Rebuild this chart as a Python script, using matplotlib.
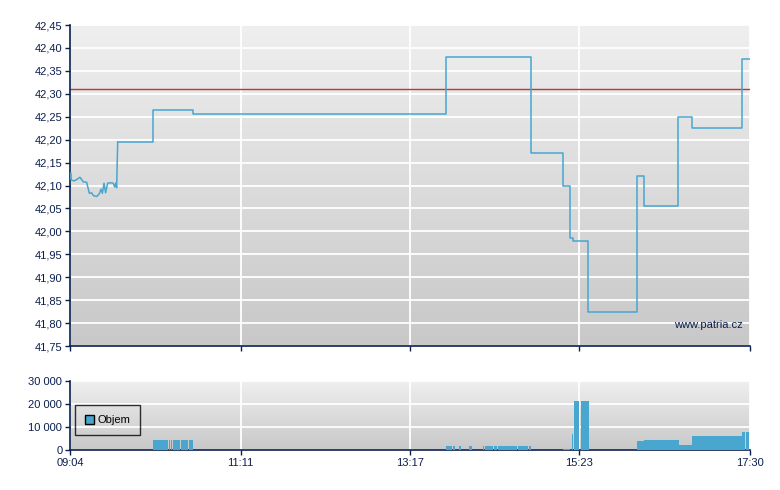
import numpy as np
import matplotlib
matplotlib.use('Agg')
import matplotlib.pyplot as plt
from matplotlib.patches import Patch

plt.rcParams['font.family'] = ['Liberation Sans', 'DejaVu Sans']

# minutes after 09:04 and trade prices
trade_min = [0, 0.5, 1, 3, 5, 7.4, 9.9, 12.4, 14.4, 16.1, 17.4, 19.8, 21.8, 23.1, 24.1,
             25.3, 26.5, 28.0, 30.3, 32.2, 33.2, 34.2, 34.7, 35.5, 62.0, 91.3, 279.8,
             342.7, 367.1, 372.1, 374.5, 385.7, 421.7, 427.3, 452.6, 463.0, 499.8, 506]
trade_px = [42.115, 42.127, 42.112, 42.110, 42.113, 42.118, 42.108, 42.107, 42.083, 42.084,
            42.078, 42.076, 42.082, 42.092, 42.083, 42.105, 42.084, 42.105, 42.106, 42.105,
            42.097, 42.106, 42.095, 42.195, 42.265, 42.255, 42.38, 42.17, 42.10, 41.985,
            41.98, 41.825, 42.12, 42.055, 42.25, 42.225, 42.375, 42.375]
n_open = 24  # opening trades drawn point to point, the rest as steps
prev_close = 42.31

# volume bars: start minute, end minute, volume
vol_start = [61.5, 66.2, 71.8, 73.3, 74.8, 76.6, 79.2, 82.6, 88.2,
             279.8, 284.8, 289.4, 292.2, 297.1, 305.6, 307.1, 308.6, 315.5, 318.2, 333.6, 341.8,
             366.8, 372.5, 373.8, 375.0, 380.0,
             421.9, 427.1, 453.2, 463.0, 499.8, 503.0]
vol_end = [66.0, 71.4, 72.9, 74.4, 75.9, 78.9, 82.2, 87.8, 91.3,
           284.0, 286.7, 290.7, 292.7, 299.1, 306.1, 307.8, 315.0, 317.5, 332.8, 341.0, 342.8,
           372.0, 373.0, 374.5, 378.7, 386.0,
           427.1, 453.2, 463.0, 499.8, 502.2, 505.5]
vol = [4400, 4400, 4400, 4400, 4400, 4400, 4400, 4400, 4400,
       1800, 1800, 1800, 1800, 1800, 1800, 1800, 1800, 1800, 1800, 1800, 1800,
       600, 7800, 7000, 21400, 21400,
       3900, 4300, 2300, 6200, 7700, 7700]

xticks = [0, 127, 253, 379, 506]
xlabels = ['09:04', '11:11', '13:17', '15:23', '17:30']
price_ticks = [41.75, 41.80, 41.85, 41.90, 41.95, 42.00, 42.05, 42.10, 42.15, 42.20,
               42.25, 42.30, 42.35, 42.40, 42.45]
vol_ticks = [0, 10000, 20000, 30000]
vol_labels = ['0', '10 000', '20 000', '30 000']

navy = '#0a1f4e'
blue = '#48a6cf'

fig = plt.figure(figsize=(7.8, 4.9), dpi=100)
ax = fig.add_axes([70/780, 1-346/490, 680/780, 321/490])
axv = fig.add_axes([70/780, 1-450/490, 680/780, 69/490])

grad = np.linspace(0, 1, 256).reshape(-1, 1)
cmap = matplotlib.colors.LinearSegmentedColormap.from_list('g', ['#c8c8c8', '#efefef'])
for a in (ax, axv):
    a.imshow(grad, extent=[0, 1, 0, 1], transform=a.transAxes, aspect='auto',
             cmap=cmap, origin='lower', zorder=0)
    a.set_xlim(0, 506)
    a.set_xticks(xticks)
    a.grid(True, color='white', lw=1.3, zorder=1)
    a.set_axisbelow(True)
    for s in ('top', 'right'):
        a.spines[s].set_visible(False)
    for s in ('left', 'bottom'):
        a.spines[s].set_color(navy)
        a.spines[s].set_linewidth(1.2)
    a.tick_params(colors=navy, labelcolor=navy, labelsize=8, length=3.5, width=1, pad=2)

ax.plot(trade_min[:n_open], trade_px[:n_open], color=blue, lw=1.1, zorder=3)
ax.step(trade_min[n_open-1:], trade_px[n_open-1:], where='post', color=blue, lw=1.1, zorder=3)
ax.axhline(prev_close, color='#c83232', lw=1, zorder=2)
ax.set_ylim(41.75, 42.45)
ax.set_yticks(price_ticks)
ax.set_yticklabels([f'{v:.2f}'.replace('.', ',') for v in price_ticks])
ax.set_xticklabels([])
ax.text(0.99, 0.065, 'www.patria.cz', transform=ax.transAxes, ha='right', va='center',
        color=navy, fontsize=8, zorder=4)

widths = [e - s for s, e in zip(vol_start, vol_end)]
axv.bar(vol_start, vol, width=widths, align='edge', color=blue, zorder=3, lw=0)
axv.set_ylim(0, 30000)
axv.set_yticks(vol_ticks)
axv.set_yticklabels(vol_labels)
axv.set_xticklabels(xlabels)
leg = axv.legend(handles=[Patch(facecolor=blue, edgecolor='black', lw=1, label='Objem')],
                 loc='upper left', bbox_to_anchor=(0.0074, 0.652), borderaxespad=0,
                 fontsize=8, frameon=True, fancybox=False, handlelength=0.8,
                 handleheight=0.8, borderpad=0.9, handletextpad=0.3)
leg.get_frame().set_edgecolor('black')
leg.get_frame().set_facecolor('none')
leg.get_frame().set_linewidth(1)

fig.savefig('out.png', dpi=100)
